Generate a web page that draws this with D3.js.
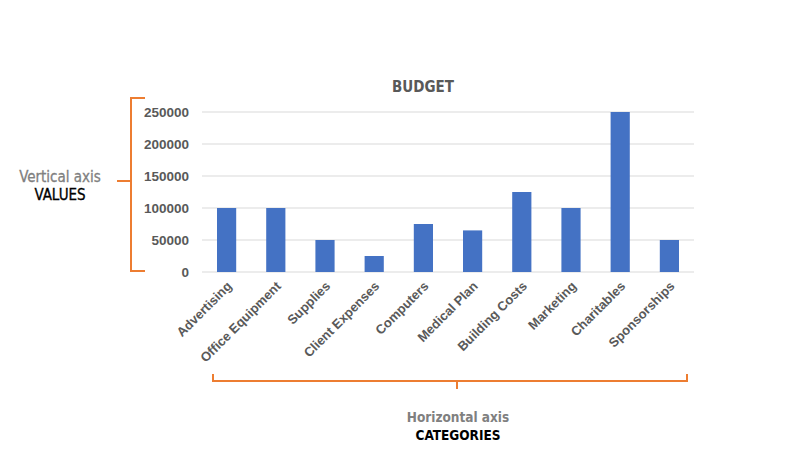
<!DOCTYPE html>
<html><head><meta charset="utf-8">
<script src="https://cdn.jsdelivr.net/npm/d3@7"></script>
<style>body{margin:0;background:#fff}svg{display:block}</style>
</head><body>
<script>
const categories = ["Advertising","Office Equipment","Supplies","Client Expenses","Computers","Medical Plan","Building Costs","Marketing","Charitables","Sponsorships"];
const values = [100000,100000,50000,25000,75000,65000,125000,100000,250000,50000];
const yTicks = [0,50000,100000,150000,200000,250000];

(function(){
const W=802,H=476;
const svg=d3.select("body").append("svg").attr("width",W).attr("height",H);
const pl=202,pr=694,pt=112,pb=272;
const x=d3.scaleBand().domain(categories).range([pl,pr]).paddingInner(0.61).paddingOuter(0.305);
const y=d3.scaleLinear().domain([0,250000]).range([pb,pt]);
const gray="#595959", orange="#ED7D31", blue="#4472C4";

svg.append("g").selectAll("line").data(yTicks).join("line")
  .attr("x1",pl).attr("x2",pr).attr("y1",d=>y(d)).attr("y2",d=>y(d))
  .attr("stroke","#D9D9D9").attr("stroke-width",1);

const ya=svg.append("g").attr("transform",`translate(${pl},0)`)
  .call(d3.axisLeft(y).tickValues(yTicks).tickSize(0).tickPadding(13).tickFormat(d3.format("d")));
ya.select(".domain").remove();
ya.selectAll("text").attr("fill",gray).attr("font-family","Liberation Sans, Arial").attr("font-weight","bold").attr("font-size",13.5);

svg.append("g").selectAll("rect").data(values).join("rect")
  .attr("x",(d,i)=>x(categories[i])).attr("width",x.bandwidth())
  .attr("y",d=>y(d)).attr("height",d=>y(0)-y(d)).attr("fill",blue);

const xa=svg.append("g").attr("transform",`translate(0,${pb})`)
  .call(d3.axisBottom(x).tickSize(0).tickPadding(0));
xa.select(".domain").remove();
xa.selectAll("text").attr("fill",gray).attr("font-family","Liberation Sans, Arial").attr("font-weight","bold").attr("font-size",13)
  .attr("text-anchor","end").attr("dy",null).attr("y",0).attr("transform","translate(6,15) rotate(-45)");

const f="DejaVu Sans Condensed, Roboto";
svg.append("text").attr("x",423).attr("y",92).attr("text-anchor","middle")
  .attr("font-family",f).attr("font-weight","bold").attr("font-size",15).attr("fill",gray).text("BUDGET");

svg.append("path").attr("fill","none").attr("stroke",orange).attr("stroke-width",2)
  .attr("d","M145,98 H131 V271 H145 M131,181 H117");
svg.append("text").attr("x",60).attr("y",182).attr("text-anchor","middle")
  .attr("font-family",f).attr("font-size",15).attr("fill","#808080").attr("stroke","#808080").attr("stroke-width",0.3).text("Vertical axis");
svg.append("text").attr("x",60).attr("y",200).attr("text-anchor","middle")
  .attr("font-family",f).attr("font-size",15).attr("fill","#000").attr("stroke","#000").attr("stroke-width",0.3).text("VALUES");

svg.append("path").attr("fill","none").attr("stroke",orange).attr("stroke-width",2)
  .attr("d","M213,374 V381 H687 V374 M457,381 V389");
svg.append("text").attr("x",458).attr("y",422).attr("text-anchor","middle")
  .attr("font-family",f).attr("font-weight","bold").attr("font-size",13.5).attr("fill","#808080").text("Horizontal axis");
svg.append("text").attr("x",458).attr("y",440).attr("text-anchor","middle")
  .attr("font-family",f).attr("font-weight","bold").attr("font-size",13.5).attr("fill","#000").text("CATEGORIES");
})();
</script>
</body></html>
